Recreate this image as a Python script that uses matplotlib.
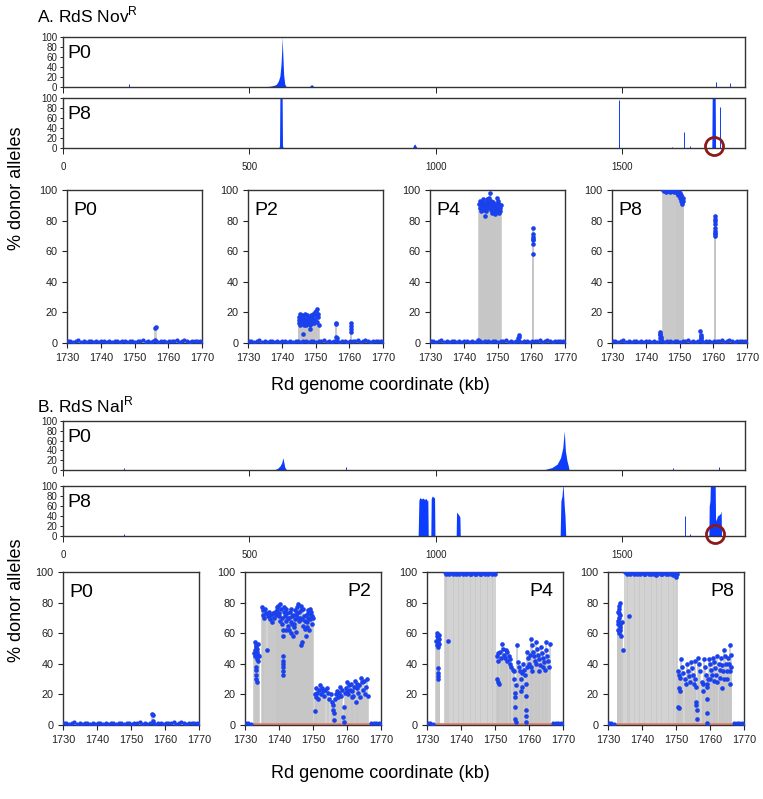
import matplotlib.pyplot as plt

plt.rcParams['font.family'] = ['Liberation Sans', 'DejaVu Sans']
plt.rcParams['mathtext.fontset'] = 'custom'
plt.rcParams['mathtext.rm'] = 'Liberation Sans'

BLUE = '#1a41ec'
GBLUE = '#0b3cff'
STEM = '#c6c6c6'
CTRL = '#e8806c'
FRAME = '#333333'

# ---------------- genome-wide profiles (kb, % donor alleles) ----------------
gA0_x = [540, 555, 565, 572, 578, 582, 585, 587, 588, 589, 592, 595, 599,
         660, 664, 667, 670, 674]
gA0_y = [0.5, 1.5, 3, 5, 12, 22, 45, 75, 100, 80, 25, 6, 0.5,
         0, 3, 5, 3, 0]
gA0_spk_x = [176, 1752, 1791]
gA0_spk_y = [7, 10, 8]

gA8_x = [579, 581, 582, 588, 589, 591, 938, 941, 944, 947, 950,
         1741, 1742, 1750, 1751]
gA8_y = [0, 5, 100, 100, 5, 0, 0, 6, 8, 4, 0,
         0, 100, 100, 0]
gA8_spk_x = [1493, 1634, 1667, 1683, 1762]
gA8_spk_y = [97, 3, 33, 5, 83]

gB0_x = [565, 575, 582, 587, 590, 592, 595, 600,
         1293, 1312, 1326, 1335, 1341, 1345, 1348, 1352, 1356, 1358]
gB0_y = [0, 3, 8, 15, 25, 18, 6, 0,
         1, 5, 12, 25, 45, 80, 40, 20, 8, 0]
gB0_spk_x = [164, 760, 1636, 1759]
gB0_spk_y = [5, 6, 5, 6]

gB8_x = [953, 955, 958, 962, 966, 970, 974, 978, 979, 980,
         987, 988, 991, 994, 997, 998,
         1055, 1056, 1059, 1062, 1065, 1066,
         1334, 1336, 1339, 1341, 1342, 1345, 1347, 1349,
         1733, 1734, 1736, 1737, 1750, 1751, 1752, 1756, 1760, 1764, 1766, 1767]
gB8_y = [0, 72, 77, 74, 76, 73, 75, 70, 72, 0,
         0, 75, 80, 78, 76, 0,
         0, 48, 45, 42, 38, 0,
         0, 70, 80, 100, 100, 60, 40, 0,
         0, 60, 70, 100, 100, 35, 30, 40, 42, 45, 50, 0]
gB8_spk_x = [164, 1670, 1683]
gB8_spk_y = [5, 40, 5]

genome_ticks = [0, 500, 1000, 1500]

# ---------------- zoomed region 1730-1770 kb ----------------
bg_x = [1730.3, 1731.0, 1731.8, 1732.6, 1733.3, 1734.1, 1734.9, 1735.6, 1736.4, 1737.2,
        1737.9, 1738.7, 1739.5, 1740.2, 1741.0, 1741.8, 1742.5, 1743.3, 1744.1, 1744.8,
        1745.6, 1746.4, 1747.1, 1747.9, 1748.7, 1749.4, 1750.2, 1751.0, 1751.7, 1752.5,
        1753.3, 1754.0, 1754.8, 1755.6, 1756.4, 1757.1, 1757.9, 1758.7, 1759.4, 1760.2,
        1761.0, 1761.7, 1762.5, 1763.3, 1764.0, 1764.8, 1765.6, 1766.3, 1767.1, 1767.9,
        1768.6, 1769.4, 1769.9]
bg_y = [1.0, 1.3, 0.8, 1.1, 1.8, 0.9, 1.2, 0.7, 1.0, 1.4,
        0.8, 1.1, 0.9, 1.3, 1.0, 0.7, 1.2, 0.9, 1.5, 1.0,
        0.8, 1.1, 1.3, 0.9, 1.0, 1.2, 0.8, 1.0, 1.4, 1.8,
        0.9, 1.1, 0.8, 1.0, 1.2, 0.9, 1.3, 1.0, 0.8, 1.1,
        1.0, 1.4, 1.8, 0.9, 1.2, 2.0, 1.0, 0.8, 1.3, 1.0,
        1.6, 1.1, 0.9]

ctrl_x = [1730, 1770]
ctrl_y = [0.6, 0.6]

A_P0_x = [1756.1, 1756.3, 1756.2]
A_P0_y = [9.8, 10.2, 2]

A_P2_x = [1745.0, 1745.1, 1745.2, 1745.3, 1745.4, 1745.5, 1745.6, 1745.8, 1745.9, 1746.0,
          1746.1, 1746.3, 1746.4, 1746.5, 1746.7, 1746.8, 1747.0, 1747.1, 1747.3, 1747.4,
          1747.6, 1747.7, 1747.9, 1748.0, 1748.2, 1748.3, 1748.5, 1748.6, 1748.8, 1748.9,
          1749.0, 1749.2, 1749.3, 1749.5, 1749.6, 1749.8, 1749.9, 1750.0, 1750.2, 1750.3,
          1750.5, 1750.6, 1750.8, 1750.9, 1756.0, 1756.1, 1756.2, 1756.3, 1760.4, 1760.5,
          1760.5, 1760.6]
A_P2_y = [15, 13, 17, 14, 19, 12, 16, 14, 18, 15,
          13, 6, 17, 12, 15, 19, 14, 16, 12, 18,
          15, 13, 17, 14, 16, 12, 9, 18, 15, 13,
          17, 14, 19, 16, 13, 20, 15, 18, 21, 14,
          22, 17, 19, 12, 13, 12.5, 4, 3, 13, 11,
          9, 7]

A_P4_x = [1744.6, 1744.7, 1744.9, 1745.0, 1745.2, 1745.3, 1745.5, 1745.6, 1745.8, 1745.9,
          1746.0, 1746.2, 1746.3, 1746.5, 1746.6, 1746.8, 1746.9, 1747.1, 1747.2, 1747.4,
          1747.5, 1747.7, 1747.8, 1748.0, 1748.1, 1748.3, 1748.4, 1748.6, 1748.7, 1748.9,
          1749.0, 1749.2, 1749.3, 1749.5, 1749.6, 1749.8, 1749.9, 1750.1, 1750.2, 1750.4,
          1750.5, 1750.7, 1750.8, 1751.0, 1744.3, 1744.4, 1756.2, 1756.3, 1756.4, 1760.5,
          1760.5, 1760.5, 1760.5, 1760.5, 1760.5, 1760.6]
A_P4_y = [91, 88, 93, 89, 86, 92, 90, 87, 94, 89,
          91, 83, 88, 92, 86, 90, 94, 88, 92, 95,
          89, 98, 91, 87, 93, 85, 90, 88, 92, 86,
          90, 84, 88, 91, 86, 95, 89, 87, 93, 85,
          91, 88, 86, 90, 2, 1.5, 3, 5, 4, 75,
          71, 69, 67, 65, 58, 68]

A_P8_x = [1745.0, 1745.3, 1745.6, 1745.9, 1746.2, 1746.5, 1746.8, 1747.1, 1747.4, 1747.7,
          1748.0, 1748.3, 1748.6, 1748.9, 1749.2, 1749.4, 1749.6, 1749.8, 1750.0, 1750.1,
          1750.2, 1750.3, 1750.4, 1750.5, 1750.6, 1750.7, 1750.8, 1750.9, 1751.0, 1744.2,
          1744.3, 1744.3, 1744.4, 1744.3, 1744.4, 1756.2, 1756.3, 1756.3, 1756.4, 1756.3,
          1760.5, 1760.5, 1760.5, 1760.5, 1760.5, 1760.5, 1760.5, 1760.5, 1760.5]
A_P8_y = [100, 99.5, 100, 99, 100, 99.5, 100, 99, 100, 99.5,
          100, 99, 99.5, 100, 99, 98, 97, 99, 96, 98,
          95, 97, 93, 96, 92, 94, 91, 95, 93, 7,
          6, 5, 4, 3, 2.5, 8, 5, 4, 3, 2,
          83, 81, 80, 78, 75, 73, 72, 71, 70]

B_P0_x = [1756.2, 1756.4, 1756.5]
B_P0_y = [7, 6.5, 2.5]

B_P2_x = [1732.6, 1732.8, 1732.9, 1733.0, 1733.1, 1733.2, 1733.3, 1733.4, 1733.5, 1733.6,
          1733.7, 1733.8, 1733.2, 1733.3, 1733.4, 1733.1, 1733.9, 1734.0, 1736.4, 1735.0,
          1735.2, 1735.4, 1735.7, 1736.0, 1736.3, 1736.7, 1737.0, 1737.3, 1737.7, 1738.0,
          1738.3, 1738.6, 1739.0, 1739.3, 1739.6, 1739.9, 1740.2, 1740.5, 1740.8, 1741.0,
          1741.1, 1741.1, 1741.2, 1741.1, 1741.2, 1741.1, 1741.2, 1741.1, 1741.4, 1741.7,
          1742.0, 1742.2, 1742.4, 1742.6, 1742.8, 1743.0, 1743.2, 1743.4, 1743.6, 1743.8,
          1744.0, 1744.2, 1744.4, 1744.6, 1744.8, 1745.0, 1745.2, 1745.4, 1745.6, 1745.8,
          1746.0, 1746.2, 1746.4, 1746.6, 1746.8, 1747.0, 1747.2, 1747.4, 1747.6, 1747.8,
          1748.0, 1748.2, 1748.4, 1748.6, 1748.8, 1749.0, 1749.2, 1749.4, 1749.6, 1749.8,
          1740.0, 1740.4, 1741.6, 1742.5, 1743.5, 1744.5, 1745.5, 1746.5, 1747.5, 1748.5,
          1749.5, 1750.0, 1738.8, 1739.4, 1742.1, 1743.9, 1745.1, 1746.9, 1748.1, 1749.1,
          1750.6, 1750.7, 1750.8, 1751.0, 1751.2, 1751.5, 1751.8, 1752.1, 1752.4, 1752.7,
          1753.0, 1753.3, 1753.6, 1754.0, 1754.4, 1754.8, 1755.2, 1755.5, 1755.8, 1756.0,
          1756.1, 1756.2, 1756.5, 1756.8, 1757.1, 1757.4, 1757.7, 1758.0, 1758.3, 1758.6,
          1758.9, 1759.0, 1759.1, 1759.3, 1759.6, 1759.9, 1760.2, 1760.5, 1760.8, 1761.1,
          1761.4, 1761.7, 1762.0, 1762.3, 1762.6, 1762.9, 1763.2, 1763.5, 1763.8, 1764.1,
          1764.4, 1764.7, 1765.0, 1765.3, 1765.6, 1765.9, 1766.1, 1760.0, 1761.5, 1763.0]
B_P2_y = [47, 54, 45, 49, 52, 38, 51, 48, 43, 50,
          46, 53, 33, 30, 28, 36, 42, 45, 49, 77,
          72, 75, 70, 76, 73, 71, 74, 69, 72, 67,
          73, 70, 72, 75, 78, 71, 79, 76, 70, 66,
          62, 58, 45, 42, 40, 38, 35, 33, 74, 71,
          68, 76, 73, 65, 70, 62, 74, 67, 60, 71,
          58, 72, 64, 69, 75, 61, 77, 73, 79, 68,
          74, 70, 78, 52, 54, 65, 76, 71, 63, 58,
          72, 67, 75, 70, 62, 74, 69, 72, 66, 71,
          73, 68, 77, 70, 76, 66, 70, 75, 68, 73,
          74, 70, 74, 77, 62, 66, 72, 69, 64, 76,
          20, 9, 18, 24, 21, 17, 23, 26, 20, 24,
          22, 19, 23, 24, 21, 17, 20, 15, 13, 10,
          8, 3, 17, 20, 22, 18, 21, 25, 19, 23,
          5, 2, 12, 21, 24, 28, 20, 26, 23, 27,
          22, 19, 25, 29, 15, 24, 21, 26, 18, 31,
          28, 23, 29, 20, 25, 30, 19, 22, 18, 27]

B_P4_x = [1732.7, 1732.8, 1732.9, 1733.0, 1733.1, 1733.2, 1733.3, 1733.4, 1733.5, 1733.6,
          1733.2, 1733.3, 1733.2, 1733.3, 1736.3, 1735.2, 1735.6, 1736.0, 1736.5, 1737.0,
          1737.5, 1738.0, 1738.5, 1739.0, 1739.5, 1740.0, 1740.5, 1741.0, 1741.5, 1742.0,
          1742.5, 1743.0, 1743.5, 1744.0, 1744.5, 1745.0, 1745.5, 1746.0, 1746.5, 1747.0,
          1747.5, 1748.0, 1748.5, 1749.0, 1749.5, 1750.0,
          1750.6, 1750.7, 1750.8, 1750.9, 1751.0, 1751.2, 1751.5, 1751.8, 1752.1, 1752.4,
          1752.7, 1753.0, 1753.3, 1753.6, 1754.0, 1754.4, 1754.8, 1755.2, 1755.5, 1755.7,
          1755.8, 1755.9, 1756.0, 1756.0, 1756.1, 1756.2, 1756.5, 1756.7, 1757.0, 1757.3,
          1757.6, 1757.9, 1758.2, 1758.5, 1758.8, 1759.0, 1759.0, 1759.0, 1759.1, 1759.1,
          1759.4, 1759.7, 1760.0, 1760.3, 1760.6, 1760.9, 1761.2, 1761.5, 1761.8, 1762.1,
          1762.4, 1762.7, 1763.0, 1763.3, 1763.6, 1763.9, 1764.2, 1764.5, 1764.8, 1765.1,
          1765.4, 1765.7, 1766.0, 1760.5, 1761.0, 1762.0, 1763.0, 1764.0, 1765.0, 1766.1,
          1757.5, 1758.0, 1759.5, 1753.5, 1754.5]
B_P4_y = [55, 58, 52, 60, 54, 57, 51, 59, 56, 53,
          37, 34, 32, 30, 55, 100, 99, 100, 99, 100,
          99, 100, 99, 100, 99, 100, 99, 100, 99, 100,
          99, 98.5, 100, 99, 98.5, 100, 99, 98.5, 100, 99,
          100, 99, 100, 99, 100, 99,
          45, 30, 28, 42, 47, 27, 48, 44, 53, 50,
          46, 44, 49, 42, 45, 40, 38, 36, 35, 30,
          21, 18, 12, 4, 2, 26, 52, 41, 38, 35,
          30, 25, 40, 36, 33, 27, 19, 10, 6, 2,
          48, 44, 40, 46, 56, 52, 48, 45, 42, 54,
          50, 46, 43, 39, 51, 47, 44, 41, 36, 49,
          45, 42, 38, 38, 35, 40, 35, 38, 54, 53,
          22, 34, 38, 48, 43]

B_P8_x = [1732.8, 1732.9, 1733.0, 1733.1, 1733.2, 1733.3, 1733.4, 1733.5, 1733.6, 1733.7,
          1733.0, 1733.2, 1733.4, 1733.6, 1733.3, 1734.1, 1734.3, 1736.3, 1735.0, 1735.5,
          1736.0, 1736.5, 1737.0, 1737.5, 1738.0, 1738.5, 1739.0, 1739.5, 1740.0, 1740.5,
          1741.0, 1741.5, 1742.0, 1742.5, 1743.0, 1743.5, 1744.0, 1744.5, 1745.0, 1745.5,
          1746.0, 1746.5, 1747.0, 1747.5, 1748.0, 1748.5, 1749.0, 1749.5, 1750.0, 1750.2,
          1750.6, 1750.7, 1750.8, 1750.9, 1751.0, 1751.1, 1751.2, 1751.6, 1751.9, 1752.2,
          1752.5, 1752.8, 1753.1, 1753.4, 1753.7, 1754.0, 1754.3, 1754.6, 1754.9, 1755.2,
          1755.5, 1755.7, 1755.8, 1755.9, 1756.0, 1756.1, 1756.2, 1756.6, 1756.9, 1757.2,
          1757.5, 1757.8, 1758.1, 1758.4, 1758.7, 1759.0, 1759.0, 1759.1, 1759.1, 1759.2,
          1759.5, 1759.8, 1760.1, 1760.4, 1760.7, 1761.0, 1761.3, 1761.6, 1761.9, 1762.2,
          1762.5, 1762.8, 1763.1, 1763.4, 1763.7, 1764.0, 1764.3, 1764.6, 1764.9, 1765.2,
          1765.5, 1765.8, 1766.0, 1766.1, 1766.2, 1761.2, 1762.0, 1763.0, 1764.0, 1765.0,
          1760.0, 1766.0, 1763.5, 1758.0]
B_P8_y = [62, 74, 66, 78, 60, 70, 80, 64, 72, 58,
          68, 76, 62, 66, 73, 67, 49, 71, 100, 99,
          100, 99, 100, 99, 100, 99, 100, 99, 100, 98.5,
          99, 100, 99, 98.5, 100, 99, 98, 99, 100, 98.5,
          99, 100, 98.5, 99, 100, 99, 98, 99.5, 97, 98.5,
          35, 12, 33, 11, 24, 31, 22, 43, 38, 34,
          30, 27, 40, 35, 32, 28, 41, 37, 33, 27,
          42, 30, 25, 15, 13, 10, 4, 44, 40, 35,
          28, 22, 43, 38, 33, 27, 17, 8, 1.5, 25,
          30, 43, 40, 36, 33, 44, 41, 37, 33, 45,
          40, 36, 44, 39, 35, 49, 45, 40, 35, 44,
          40, 35, 52, 46, 38, 29, 28, 31, 30, 30,
          30, 27, 24, 27]

zoom_ticks = [1730, 1740, 1750, 1760, 1770]

W, H = 763, 799
fig = plt.figure(figsize=(W / 100, H / 100), dpi=100)


def rect(left, top, width, height):
    return [left / W, 1 - (top + height) / H, width / W, height / H]


def style_frame(ax):
    for s in ax.spines.values():
        s.set_color(FRAME)
        s.set_linewidth(1.0)


def genome_panel(r, label, px, py, sx, sy, tick_labels, circle_x=None):
    ax = fig.add_axes(rect(*r))
    ax.axhline(1, color='#4a4a60', lw=0.6, zorder=1)
    ax.fill_between(px, 0, py, color=GBLUE, lw=0, zorder=2)
    ax.vlines(sx, 0, sy, color=GBLUE, lw=0.7, zorder=2)
    ax.set_xlim(0, 1830)
    ax.set_ylim(0, 100)
    ax.set_yticks([0, 20, 40, 60, 80, 100])
    ax.set_xticks(genome_ticks)
    if not tick_labels:
        ax.set_xticklabels([])
    ax.tick_params(labelsize=7, length=2.5, width=0.7, pad=1.5, colors='#222222')
    ax.tick_params(axis='x', length=4, pad=6)
    ax.text(0.006, 0.84, label, transform=ax.transAxes, fontsize=14,
            ha='left', va='top')
    if circle_x is not None:
        ax.plot([circle_x], [4], 'o', ms=13, mfc='none', mec='#8b1a1a',
                mew=2, clip_on=False, zorder=5)
    style_frame(ax)
    return ax


def zoom_panel(r, label, right, xs, ys, ctrl, skip=None):
    ax = fig.add_axes(rect(*r))
    ax.vlines(xs, 0, ys, color=STEM, lw=1.1, zorder=1)
    if ctrl:
        ax.plot(ctrl_x, ctrl_y, color=CTRL, lw=1.3, zorder=2)
    bx = [x for x in bg_x if skip is None or not (skip[0] < x < skip[1])]
    by = [y for x, y in zip(bg_x, bg_y) if skip is None or not (skip[0] < x < skip[1])]
    ax.scatter(bx, by, s=9, color=BLUE, lw=0, zorder=3)
    ax.scatter(xs, ys, s=11, color=BLUE, lw=0, zorder=4)
    ax.set_xlim(1730, 1770)
    ax.set_ylim(0, 100)
    ax.set_xticks(zoom_ticks)
    ax.set_yticks([0, 20, 40, 60, 80, 100])
    ax.tick_params(labelsize=7.8, length=3.5, width=0.8, colors='#222222')
    if right:
        ax.text(0.93, 0.93, label, transform=ax.transAxes, fontsize=14,
                ha='right', va='top')
    else:
        ax.text(0.05, 0.92, label, transform=ax.transAxes, fontsize=14,
                ha='left', va='top')
    style_frame(ax)
    return ax


# ---------------- Panel A ----------------
fig.text(37 / W, 1 - 15 / H, 'A. RdS Nov$^{\\mathregular{R}}$', fontsize=12.5,
         ha='left', va='center')
genome_panel((63, 37, 682, 50), 'P0', gA0_x, gA0_y, gA0_spk_x, gA0_spk_y, False)
genome_panel((63, 98, 682, 50), 'P8', gA8_x, gA8_y, gA8_spk_x, gA8_spk_y, True,
             circle_x=1748)

zoom_panel((67, 190, 135, 153), 'P0', False, A_P0_x, A_P0_y, False)
zoom_panel((248, 190, 135, 153), 'P2', False, A_P2_x, A_P2_y, True)
zoom_panel((430, 190, 135, 153), 'P4', False, A_P4_x, A_P4_y, True)
zoom_panel((612, 190, 135, 153), 'P8', False, A_P8_x, A_P8_y, True)

fig.text(17 / W, 1 - 188 / H, '% donor alleles', rotation=90, fontsize=13,
         ha='center', va='center')
fig.text(380 / W, 1 - 386 / H, 'Rd genome coordinate (kb)', fontsize=13,
         ha='center', va='center')

# ---------------- Panel B ----------------
fig.text(37 / W, 1 - 405 / H, 'B. RdS Nal$^{\\mathregular{R}}$', fontsize=12.5,
         ha='left', va='center')
genome_panel((63, 421, 682, 49), 'P0', gB0_x, gB0_y, gB0_spk_x, gB0_spk_y, False)
genome_panel((63, 486, 682, 50), 'P8', gB8_x, gB8_y, gB8_spk_x, gB8_spk_y, True,
             circle_x=1749)

zoom_panel((63, 572, 136, 153), 'P0', False, B_P0_x, B_P0_y, False)
zoom_panel((245, 572, 136, 153), 'P2', True, B_P2_x, B_P2_y, True, skip=(1732.3, 1766.5))
zoom_panel((427, 572, 136, 153), 'P4', True, B_P4_x, B_P4_y, True, skip=(1732.3, 1766.5))
zoom_panel((608, 572, 136, 153), 'P8', True, B_P8_x, B_P8_y, True, skip=(1732.3, 1766.5))

fig.text(17 / W, 1 - 600 / H, '% donor alleles', rotation=90, fontsize=13,
         ha='center', va='center')
fig.text(380 / W, 1 - 773 / H, 'Rd genome coordinate (kb)', fontsize=13,
         ha='center', va='center')

fig.savefig('out.png', dpi=100)
